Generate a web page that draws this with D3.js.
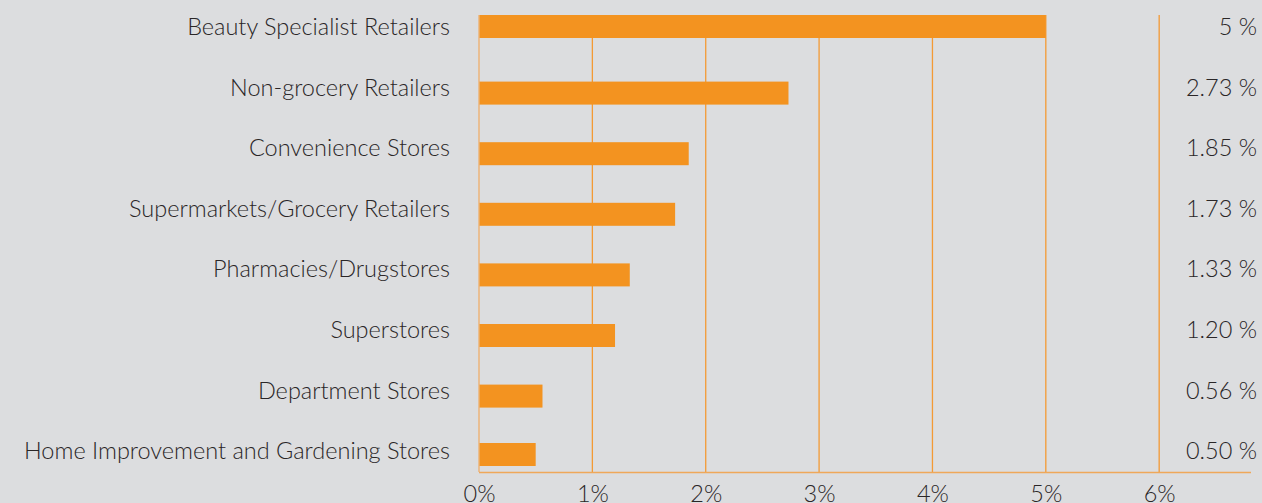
<!DOCTYPE html>
<html>
<head>
<meta charset="utf-8">
<script src="https://cdn.jsdelivr.net/npm/d3@7/dist/d3.min.js"></script>
<style>
  html, body { margin: 0; padding: 0; background: #dcdddf; }
  svg { display: block; }
  text { font-family: "Lato", "Open Sans", sans-serif; font-weight: 300; fill: #2a2627; }
</style>
</head>
<body>
<svg id="chart" width="1262" height="503"></svg>
<script>
// Share of sales by retail channel
const categories = [
  "Beauty Specialist Retailers",
  "Non-grocery Retailers",
  "Convenience Stores",
  "Supermarkets/Grocery Retailers",
  "Pharmacies/Drugstores",
  "Superstores",
  "Department Stores",
  "Home Improvement and Gardening Stores"
];
const values = [5, 2.73, 1.85, 1.73, 1.33, 1.20, 0.56, 0.50];
const valueLabels = ["5 %", "2.73 %", "1.85 %", "1.73 %", "1.33 %", "1.20 %", "0.56 %", "0.50 %"];
const tickValues = [0, 1, 2, 3, 4, 5, 6];
const tickLabels = ["0%", "1%", "2%", "3%", "4%", "5%", "6%"];

const W = 1262, H = 503;
const plot = { left: 479, right: 1251, top: 15, axis: 472 };
const labelX = 450, valueX = 1257;
const fontSize = 23.5;

const svg = d3.select("#chart");
svg.append("rect").attr("width", W).attr("height", H).attr("fill", "#dcdddf");

const x = d3.scaleLinear().domain([0, 6.81]).range([plot.left, plot.right]);

// one row per category; text baselines sit on the row grid
const rows = d3.scaleBand().domain(categories).range([-3.8, 481.0]).paddingInner(0).paddingOuter(0);
const rowMid = c => rows(c) + rows.bandwidth() / 2;
const barH = 23;

// vertical gridlines from the top of the plot down to the axis
const gridTicks = tickValues.filter(v => v > 0);
svg.append("g")
  .selectAll("line")
  .data(gridTicks)
  .join("line")
  .attr("x1", d => x(d)).attr("x2", d => x(d))
  .attr("y1", plot.top).attr("y2", plot.axis)
  .attr("stroke", "#f39a35")
  .attr("stroke-width", 1.3);

// zero line
svg.append("line")
  .attr("x1", x(0)).attr("x2", x(0))
  .attr("y1", plot.top).attr("y2", plot.axis)
  .attr("stroke", "#efae6a")
  .attr("stroke-width", 1.3);

// bars: first and last rows sit flush with the plot edges
const n = categories.length;
function barY(c, i) {
  if (i === 0) return plot.top;
  if (i === n - 1) return plot.axis - 6 - barH;
  return rowMid(c) + 6 - barH / 2;
}
svg.append("g")
  .selectAll("rect")
  .data(values)
  .join("rect")
  .attr("x", x(0) + 0.5)
  .attr("y", (d, i) => barY(categories[i], i))
  .attr("width", d => x(d) - x(0) - 0.5)
  .attr("height", barH)
  .attr("fill", "#f39320");

// bottom axis
const axis = d3.axisBottom(x)
  .tickValues(tickValues)
  .tickFormat((d, i) => tickLabels[i])
  .tickSize(0)
  .tickPadding(0);
const gAxis = svg.append("g").attr("transform", `translate(0,${plot.axis})`).call(axis);
gAxis.select(".domain")
  .attr("d", `M${plot.left},0.5H${plot.right}`)
  .attr("stroke", "#efa85a")
  .attr("stroke-width", 1.7);
gAxis.selectAll(".tick text")
  .attr("dy", null)
  .attr("y", 30)
  .attr("font-size", fontSize)
  .attr("font-family", "Lato, 'Open Sans', sans-serif")
  .attr("font-weight", 300)
  .attr("fill", "#2a2627");

// category labels
svg.append("g")
  .selectAll("text")
  .data(categories)
  .join("text")
  .attr("x", labelX)
  .attr("y", c => rowMid(c) + 8.5)
  .attr("text-anchor", "end")
  .attr("font-size", fontSize)
  .text(c => c);

// value labels
svg.append("g")
  .selectAll("text")
  .data(valueLabels)
  .join("text")
  .attr("x", valueX)
  .attr("y", (d, i) => rowMid(categories[i]) + 8.5)
  .attr("text-anchor", "end")
  .attr("font-size", fontSize)
  .text(d => d);
</script>
</body>
</html>
